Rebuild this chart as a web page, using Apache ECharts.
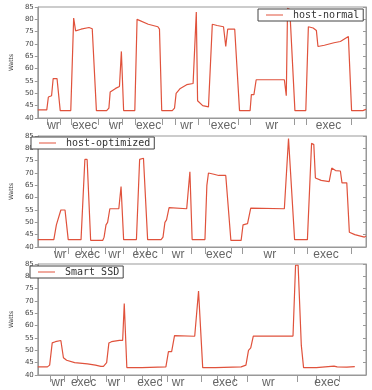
<!DOCTYPE html>
<html>
<head>
<meta charset="utf-8">
<script src="https://cdn.jsdelivr.net/npm/echarts@6/dist/echarts.min.js"></script>
<style>
  html, body { margin: 0; padding: 0; background: #fff; }
  #main { width: 372px; height: 390px; }
</style>
</head>
<body>
<div id="main"></div>
<script>
// time positions (arbitrary units) and power readings in Watts
var tNormal = [75, 103, 108, 118, 123, 135, 140, 145, 178, 187, 193, 210, 235, 245, 250, 258, 290, 297, 301, 318, 330, 333, 336, 343, 378, 385, 420, 450, 455, 462, 495, 502, 507, 520, 540, 560, 565, 570, 574, 590, 608, 620, 635, 655, 662, 668, 690, 695, 705, 738, 742, 750, 757, 845, 851, 855, 862, 878, 912, 920, 935, 945, 950, 970, 1000, 1005, 1020, 1045, 1055, 1090, 1100];
var hostNormal = [43.3, 43.3, 48.5, 49, 56, 56, 55.8, 43, 43, 80.5, 75.3, 76, 76.7, 76.2, 76, 43, 43, 44, 50.5, 52, 52.8, 53, 67, 43, 43, 80, 78, 77, 76, 43, 43, 44, 50, 52, 53.5, 54, 53.5, 83, 47, 45, 44.5, 78, 77.5, 77, 69, 76, 76, 75.5, 43, 43, 49.5, 49.5, 55.5, 55.5, 49, 84.5, 84, 43, 43, 77, 76.5, 75.5, 69, 69.5, 70.5, 70, 71, 73, 43, 43, 43.5];

var tOpt = [75, 125, 133, 138, 147, 160, 163, 170, 210, 222, 229, 240, 278, 282, 288, 293, 300, 328, 330, 335, 343, 383, 393, 405, 418, 460, 466, 472, 477, 485, 540, 550, 557, 597, 603, 608, 625, 640, 662, 678, 710, 716, 730, 740, 845, 848, 858, 864, 877, 917, 930, 937, 942, 960, 985, 993, 1005, 1020, 1025, 1040, 1048, 1065, 1095, 1100];
var hostOptimized = [43, 43, 49, 49.5, 55, 55, 55.5, 43, 43, 75.5, 75.5, 42.7, 42.7, 44, 49, 50, 55.5, 55.5, 55, 64.5, 43, 43, 75.5, 76, 43, 43, 44, 50, 51, 56, 55.5, 70.5, 43, 43, 65, 70, 69.5, 69, 69, 42.7, 42.7, 49, 49.5, 55.8, 55.5, 55, 84, 84, 43, 43, 82, 81.5, 68, 67, 66.5, 72, 71, 70.8, 66, 66, 46, 45, 44, 44.5];

var tSmart = [75, 105, 112, 120, 130, 147, 150, 155, 165, 190, 230, 255, 272, 280, 290, 297, 305, 330, 340, 345, 353, 400, 405, 475, 483, 493, 502, 565, 570, 577, 590, 630, 635, 710, 725, 733, 740, 748, 872, 875, 880, 888, 898, 905, 945, 950, 1000, 1010, 1040, 1045, 1065];
var smartSSD = [43.3, 43.3, 44, 53, 53.5, 54, 54, 47, 46, 45, 44.5, 44, 43.5, 43.5, 45, 53, 53.5, 54, 54, 69, 43, 43, 43.3, 43.3, 49.5, 49.5, 56, 55.7, 55, 74, 43, 43, 43.3, 43.3, 44, 50, 51, 55.8, 55.8, 56, 84.5, 84.5, 52, 43, 43, 43.3, 43.6, 43.3, 43.2, 43.6, 43.4];

// phase brackets and labels on the x axis
var phaseNames = ['wr', 'exec', 'wr', 'exec', 'wr', 'exec', 'wr', 'exec'];
var ticks1 = [103, 145, 178, 265, 297, 340, 378, 465, 505, 576, 610, 700, 740, 875, 914, 1053];
var labelPos1 = [124, 221, 318, 421, 540, 655, 806, 983];
var ticks2 = [128, 170, 212, 243, 285, 343, 383, 418, 463, 555, 597, 678, 715, 877, 917, 1055];
var labelPos2 = [145, 230, 315, 410, 513, 640, 800, 975];
var ticks3 = [115, 158, 198, 240, 290, 345, 400, 460, 480, 587, 635, 690, 728, 885, 945, 1015];
var labelPos3 = [137, 218, 313, 425, 513, 660, 795, 978];

function pairs(t, v) {
  return t.map(function (x, i) { return [x, v[i]]; });
}

var panelTops = [7, 136, 264];
var tickSets = [ticks1, ticks2, ticks3];
var labelSets = [labelPos1, labelPos2, labelPos3];
var names = ['host-normal', 'host-optimized', 'Smart SSD'];
var seriesData = [pairs(tNormal, hostNormal), pairs(tOpt, hostOptimized), pairs(tSmart, smartSSD)];
var legendPos = [{left: 258, top: 9}, {left: 31, top: 137}, {left: 30, top: 266}];

var grid = [], xAxis = [], yAxis = [], series = [], legend = [];

for (var i = 0; i < 3; i++) {
  grid.push({
    left: 25, width: 341, top: panelTops[i], height: 111,
    show: true, borderColor: '#999', borderWidth: 1
  });
  (function (lp) {
    xAxis.push({
      type: 'value', gridIndex: i, min: 75, max: 1100,
      axisLine: { show: true, lineStyle: { color: '#999' } },
      splitLine: { show: false },
      axisTick: { show: true, length: 7, customValues: tickSets[i], lineStyle: { color: '#999' } },
      axisLabel: {
        customValues: lp, margin: 2, fontSize: 12,
        fontFamily: 'Liberation Sans', color: '#666',
        formatter: function (val) {
          var k = lp.indexOf(val);
          return k >= 0 ? phaseNames[k] : '';
        }
      }
    });
  })(labelSets[i]);
  yAxis.push({
    type: 'value', gridIndex: i, min: 40, max: 85, interval: 5,
    name: 'Watts', nameLocation: 'middle', nameGap: 19, nameRotate: 90,
    nameTextStyle: { fontSize: 6, color: '#333', fontFamily: 'DejaVu Sans' },
    axisLine: { show: true, lineStyle: { color: '#999' } },
    axisTick: { show: true, length: 3, lineStyle: { color: '#999' } },
    splitLine: { show: false },
    axisLabel: { fontSize: 7, color: '#444', margin: 4, fontFamily: 'DejaVu Sans' }
  });
  // right-hand frame ticks
  yAxis.push({
    type: 'value', gridIndex: i, min: 40, max: 85, interval: 5, position: 'right',
    axisLine: { show: true, lineStyle: { color: '#999' } },
    axisTick: { show: true, inside: true, length: 3, lineStyle: { color: '#999' } },
    splitLine: { show: false },
    axisLabel: { show: false }
  });
  series.push({
    name: names[i], type: 'line', xAxisIndex: i, yAxisIndex: i * 2,
    data: seriesData[i], showSymbol: false, symbol: 'none',
    lineStyle: { color: '#e0523c', width: 1.2 },
    itemStyle: { color: '#e0523c' }
  });
  legend.push({
    data: [names[i]], left: legendPos[i].left, top: legendPos[i].top,
    icon: 'rect', itemWidth: 17, itemHeight: 1,
    padding: [1, 4, 1, 8], borderColor: '#444', borderWidth: 1,
    backgroundColor: '#fff',
    textStyle: { fontFamily: 'DejaVu Sans Mono', fontSize: 10, color: '#333', lineHeight: 9, padding: [0, 0, 0, 5] }
  });
}

var myChart = echarts.init(document.getElementById('main'), null, { renderer: 'canvas' });
myChart.setOption({
  animation: false,
  grid: grid,
  xAxis: xAxis,
  yAxis: yAxis,
  legend: legend,
  series: series
});
</script>
</body>
</html>
